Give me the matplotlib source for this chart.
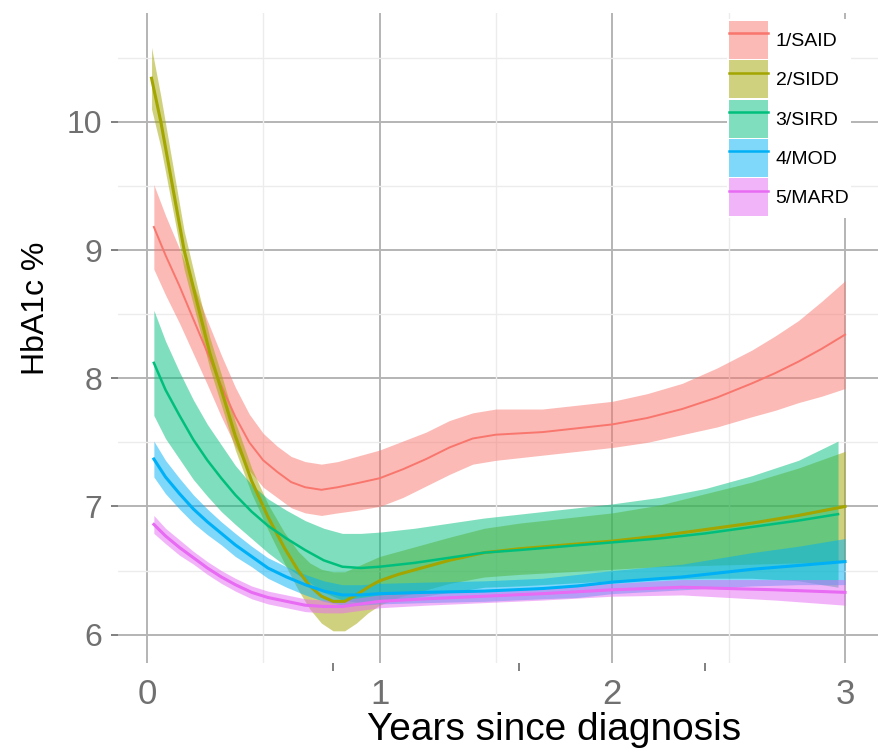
import matplotlib
matplotlib.use("Agg")
import matplotlib.pyplot as plt
from matplotlib.patches import Patch
from matplotlib.lines import Line2D
import numpy as np

plt.rcParams['font.family'] = ['Liberation Sans', 'DejaVu Sans']

# cluster labels and ggplot-style hue colours
clusters = ["1/SAID", "2/SIDD", "3/SIRD", "4/MOD", "5/MARD"]
colors = ["#F8766D", "#A3A500", "#00BF7D", "#00B0F6", "#E76BF3"]
line_widths = [1.4, 2.2, 1.8, 2.2, 2.2]

# 1/SAID: years, smoothed HbA1c (%), half-width of the band
said_x = [0.03, 0.08, 0.14, 0.2, 0.26, 0.32, 0.38, 0.44, 0.5, 0.56, 0.62, 0.68, 0.75, 0.82, 0.9,
          1.0, 1.1, 1.2, 1.3, 1.4, 1.5, 1.6, 1.7, 1.85, 2.0, 2.15, 2.3, 2.45, 2.6, 2.7, 2.8, 2.9, 3.0]
said_y = [9.18, 8.96, 8.72, 8.46, 8.2, 7.94, 7.7, 7.5, 7.36, 7.27, 7.19, 7.15, 7.13, 7.15, 7.18,
          7.22, 7.29, 7.37, 7.46, 7.53, 7.56, 7.57, 7.58, 7.61, 7.64, 7.69, 7.76, 7.85, 7.96, 8.04,
          8.13, 8.23, 8.34]
said_se = [0.33, 0.31, 0.29, 0.27, 0.25, 0.24, 0.23, 0.22, 0.21, 0.2, 0.2, 0.2, 0.2, 0.2, 0.21,
           0.22, 0.22, 0.21, 0.21, 0.2, 0.2, 0.19, 0.18, 0.18, 0.18, 0.19, 0.2, 0.23, 0.26, 0.29,
           0.32, 0.37, 0.42]

# 2/SIDD
sidd_x = [0.02, 0.06, 0.1, 0.16, 0.22, 0.27, 0.32, 0.38, 0.45, 0.52, 0.59, 0.65, 0.7, 0.75, 0.8,
          0.85, 0.9, 0.95, 1.0, 1.08, 1.16, 1.3, 1.45, 1.6, 1.8, 2.0, 2.2, 2.4, 2.6, 2.8, 3.0]
sidd_y = [10.34, 10.0, 9.6, 9.0, 8.56, 8.2, 7.91, 7.55, 7.2, 6.92, 6.68, 6.5, 6.38, 6.3, 6.26,
          6.26, 6.31, 6.37, 6.42, 6.47, 6.51, 6.58, 6.64, 6.67, 6.7, 6.73, 6.77, 6.82, 6.87, 6.93,
          7.0]
sidd_se = [0.24, 0.2, 0.18, 0.15, 0.13, 0.12, 0.12, 0.11, 0.1, 0.1, 0.12, 0.15, 0.18, 0.21, 0.23,
           0.23, 0.22, 0.2, 0.19, 0.18, 0.18, 0.18, 0.19, 0.2, 0.21, 0.22, 0.24, 0.28, 0.32, 0.37,
           0.43]

# 3/SIRD
sird_x = [0.03, 0.08, 0.14, 0.2, 0.26, 0.32, 0.38, 0.45, 0.52, 0.6, 0.68, 0.76, 0.84, 0.92, 1.0,
          1.15, 1.3, 1.45, 1.6, 1.8, 2.0, 2.2, 2.4, 2.6, 2.8, 2.97]
sird_y = [8.12, 7.91, 7.71, 7.52, 7.36, 7.22, 7.09, 6.96, 6.85, 6.75, 6.66, 6.58, 6.53, 6.52, 6.53,
          6.56, 6.6, 6.64, 6.66, 6.69, 6.72, 6.75, 6.79, 6.84, 6.89, 6.94]
sird_se = [0.41, 0.38, 0.34, 0.31, 0.28, 0.26, 0.23, 0.21, 0.21, 0.22, 0.23, 0.25, 0.26, 0.27, 0.27,
           0.27, 0.27, 0.27, 0.28, 0.29, 0.3, 0.32, 0.35, 0.4, 0.47, 0.57]

# 4/MOD
mod_x = [0.03, 0.08, 0.14, 0.2, 0.26, 0.32, 0.38, 0.45, 0.52, 0.6, 0.68, 0.76, 0.84, 0.92, 1.0,
         1.2, 1.45, 1.7, 1.85, 2.0, 2.3, 2.6, 2.8, 3.0]
mod_y = [7.37, 7.23, 7.1, 6.98, 6.88, 6.79, 6.7, 6.61, 6.52, 6.45, 6.39, 6.34, 6.31, 6.31, 6.32,
         6.33, 6.34, 6.36, 6.38, 6.41, 6.45, 6.51, 6.54, 6.57]
mod_se = [0.14, 0.13, 0.12, 0.11, 0.1, 0.09, 0.09, 0.08, 0.08, 0.08, 0.08, 0.08, 0.08, 0.08, 0.08,
          0.08, 0.08, 0.08, 0.09, 0.09, 0.1, 0.13, 0.15, 0.18]

# 5/MARD
mard_x = [0.03, 0.08, 0.14, 0.2, 0.26, 0.32, 0.38, 0.45, 0.52, 0.6, 0.68, 0.76, 0.84, 0.92, 1.0,
          1.2, 1.45, 1.7, 2.0, 2.3, 2.5, 2.7, 2.85, 3.0]
mard_y = [6.86, 6.77, 6.68, 6.6, 6.52, 6.45, 6.39, 6.33, 6.29, 6.26, 6.23, 6.22, 6.22, 6.24, 6.26,
          6.28, 6.3, 6.32, 6.35, 6.37, 6.36, 6.35, 6.34, 6.33]
mard_se = [0.07, 0.06, 0.06, 0.05, 0.05, 0.05, 0.05, 0.05, 0.05, 0.05, 0.05, 0.05, 0.05, 0.05, 0.05,
           0.05, 0.05, 0.05, 0.05, 0.06, 0.07, 0.08, 0.09, 0.1]

series = [
    (said_x, said_y, said_se),
    (sidd_x, sidd_y, sidd_se),
    (sird_x, sird_y, sird_se),
    (mod_x, mod_y, mod_se),
    (mard_x, mard_y, mard_se),
]

fig = plt.figure(figsize=(8.79, 7.55), dpi=100)
ax = fig.add_axes([0.134, 0.122, 0.866, 0.861])

for (x, y, se), c, lw in zip(series, colors, line_widths):
    x = np.array(x)
    y = np.array(y)
    se = np.array(se)
    ax.fill_between(x, y - se, y + se, color=c, alpha=0.5, lw=0, zorder=3)
    ax.plot(x, y, color=c, lw=lw, zorder=4, solid_joinstyle="round")

ax.set_xlim(-0.125, 3.146)
ax.set_ylim(5.78, 10.85)

# grid: darker major lines, faint minor lines halfway between
for v in [0.5, 1.5, 2.5]:
    ax.axvline(v, color="#ececec", lw=1.0, zorder=1)
for v in [6.5, 7.5, 8.5, 9.5, 10.5]:
    ax.axhline(v, color="#ececec", lw=1.0, zorder=1)
ax.set_xticks([0, 1, 2, 3])
ax.set_yticks([6, 7, 8, 9, 10])
ax.grid(True, which="major", color="#b4b4b4", lw=1.4, zorder=2)
ax.set_axisbelow(True)

ax.set_xticks([0, 0.8, 1.6, 2.4], minor=True)
ax.tick_params(axis="x", which="major", length=0, pad=11, labelsize=25, labelcolor="#707070")
ax.tick_params(axis="x", which="minor", length=6, width=1.4, color="#808080", pad=0)
ax.tick_params(axis="y", which="major", length=5, width=1.4, color="#808080", pad=6,
               labelsize=23, labelcolor="#707070")
ax.tick_params(axis="y", which="minor", length=0)

for s in ax.spines.values():
    s.set_visible(False)

ax.set_xlabel("Years since diagnosis", fontsize=28, color="black")
ax.xaxis.set_label_coords(0.573, -0.076)
ax.xaxis.label.set_va("top")
ax.set_ylabel("HbA1c %", fontsize=23, color="black")
ax.yaxis.set_label_coords(-0.108, 0.546)
ax.yaxis.label.set_va("center")

handles = [(Patch(facecolor=c, alpha=0.5, edgecolor="none"), Line2D([], [], color=c, lw=1.8))
           for c in colors]
leg = ax.legend(handles, clusters, loc="upper left",
                bbox_to_anchor=(727 / 879, 1 - 19 / 755), bbox_transform=fig.transFigure,
                fontsize=14, handlelength=2.0, handleheight=2.63, labelspacing=0.07,
                handletextpad=0.4, borderpad=0.1, borderaxespad=0,
                frameon=True, fancybox=False, edgecolor="none", facecolor="white", framealpha=1)
leg.set_zorder(10)

fig.savefig("out.png", dpi=100, facecolor="white")
